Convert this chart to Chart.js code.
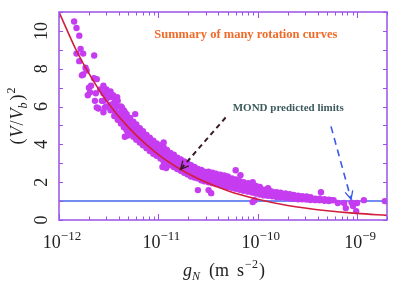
<!DOCTYPE html>
<html><head><meta charset="utf-8">
<script src="https://cdn.jsdelivr.net/npm/chart.js@4.4.1/dist/chart.umd.min.js"></script>
<style>html,body{margin:0;padding:0;background:#fff;}#wrap{width:415px;height:293px;}</style>
</head><body><div id="wrap"><canvas id="c" width="415" height="293"></canvas></div>
<script>
// ---- data ----
// dense band: each g value carries a column of (V/Vb)^2 values
const colG = [2.8e-12,3.0e-12,3.3e-12,3.6e-12,3.9e-12,4.2e-12,4.5e-12,4.8e-12,5.2e-12,5.6e-12,
  6.0e-12,6.5e-12,7.0e-12,7.6e-12,8.2e-12,8.9e-12,9.6e-12,
  1.05e-11,1.13e-11,1.22e-11,1.32e-11,1.43e-11,1.55e-11,1.68e-11,1.82e-11,1.97e-11,2.13e-11,2.31e-11,2.5e-11,2.7e-11,2.9e-11,
  3.2e-11,3.5e-11,3.8e-11,4.2e-11,4.6e-11,5.0e-11,5.5e-11,6.0e-11,6.6e-11,7.2e-11,8.0e-11,8.8e-11,9.6e-11,
  1.05e-10,1.15e-10,1.27e-10,1.4e-10,1.55e-10,1.7e-10,1.9e-10,2.1e-10,2.3e-10,2.55e-10,2.8e-10,3.1e-10,3.4e-10,3.8e-10,4.2e-10,4.7e-10,5.2e-10,5.8e-10];
const colV = [[6.3,6.7,7.1],[6.0,6.4,6.9],[5.8,6.1,6.5,6.8],[5.5,5.8,6.2,6.5],[5.3,5.6,6.0,6.3],[5.1,5.4,5.7,6.0],[4.9,5.2,5.5,5.8],[4.75,5.0,5.3,5.6],[4.55,4.85,5.1,5.4],[4.4,4.7,4.95,5.2],
  [4.25,4.5,4.8,5.05],[4.1,4.35,4.6,4.85],[3.95,4.2,4.45,4.7],[3.8,4.05,4.3,4.5],[3.65,3.9,4.1,4.35],[3.5,3.75,3.95,4.2],[3.4,3.6,3.85,4.05],
  [3.25,3.5,3.75,3.95],[3.1,3.35,3.6,3.85],[3.0,3.25,3.5,3.7],[2.9,3.1,3.35,3.55],[2.8,3.0,3.2,3.45],[2.7,2.9,3.1,3.3],[2.6,2.8,3.0,3.2],[2.5,2.7,2.9,3.1],[2.4,2.6,2.8,3.0],[2.3,2.5,2.7,2.9],[2.25,2.45,2.6,2.8],[2.2,2.35,2.55,2.7],[2.1,2.3,2.45,2.65],[2.05,2.25,2.4,2.55],
  [2.0,2.2,2.4,2.55],[1.95,2.15,2.35,2.5],[1.9,2.1,2.3,2.45],[1.85,2.05,2.25,2.4],[1.8,2.0,2.2,2.35],[1.75,1.95,2.1,2.3],[1.7,1.9,2.05,2.2],[1.65,1.8,2.0,2.15],[1.6,1.75,1.9,2.05],[1.55,1.7,1.85,2.0],[1.5,1.65,1.8,1.95],[1.45,1.6,1.75,1.85],[1.4,1.55,1.7,1.8],
  [1.35,1.5,1.65,1.75],[1.3,1.45,1.6],[1.28,1.42,1.55,1.68],[1.25,1.38,1.5],[1.22,1.35,1.47],[1.2,1.32,1.44],[1.18,1.3,1.4],[1.15,1.26,1.36],[1.12,1.22,1.32],[1.1,1.2,1.28],[1.1,1.18,1.26],[1.08,1.16,1.24],[1.06,1.14,1.2],[1.05,1.13],[1.04,1.12],[1.02,1.1],[1.0,1.08],[1.05]];
// sparse / outlying galaxies
const looseG = [1.42e-12,1.5e-12,1.6e-12,1.65e-12,1.5e-12,1.75e-12,2.26e-12,1.6e-12,1.85e-12,1.9e-12,
  1.75e-12,1.7e-12,2.25e-12,2.4e-12,2.1e-12,2.0e-12,2.6e-12,2.35e-12,1.95e-12,2.05e-12,
  3.0e-12,3.1e-12,2.3e-12,2.7e-12,2.5e-12,3.6e-12,2.8e-12,3.7e-12,4.1e-12,2.4e-12,
  3.5e-12,3.85e-12,4.3e-12,4.6e-12,5.85e-12,2.9e-12,4.6e-12,4.9e-12,1.13e-11,1.1e-11,1.2e-11,
  6.0e-11,6.7e-11,8.9e-11,3.2e-11,3.4e-11,8.9e-11,9.3e-11,1.3e-10,4.33e-10,2.5e-11,
  5.5e-10,6.4e-10,7.4e-10,7.7e-10,9.1e-10,8.8e-10,1.0e-9,9.8e-10,1.17e-9,1.9e-9];
const looseV = [10.5,10.15,9.75,9.05,8.8,8.8,8.7,8.4,8.05,7.9,
  7.7,7.65,7.5,7.45,7.1,7.0,6.9,6.7,6.6,6.75,
  6.6,6.5,6.3,6.3,5.9,5.9,5.7,5.7,5.6,5.95,
  6.6,6.5,5.95,5.7,5.6,5.95,4.4,4.47,4.1,2.8,2.75,
  2.63,2.37,2.0,1.58,1.42,0.95,1.05,1.58,1.47,1.58,
  1.05,0.9,0.9,0.63,0.74,0.92,0.9,0.47,1.05,1.0];
// red curve
const curveG = [1e-12,1.5e-12,2e-12,3e-12,5e-12,1e-11,2e-11,5e-11,1e-10,2e-10,5e-10,1e-9,2e-9];
const curveV = [11.0,8.95,7.75,6.3,4.9,3.46,2.45,1.55,1.1,0.77,0.49,0.35,0.245];
// blue limit line
const limitG = [1e-12,2e-9];
const limitV = [1,1];
// axes
const xTickExps = [-12,-11,-10,-9];
const yTickLabels = [0,2,4,6,8,10];
const yMinorStep = 1;
// annotations (data coords)
const titleText = 'Summary of many rotation curves';
const titleAt = {g:9.1e-12, v:9.63};
const noteText = 'MOND predicted limits';
const noteAt = {g:5.6e-11, v:5.79};
const arrow1 = {from:{g:4.75e-11,v:5.42}, to:{g:1.67e-11,v:2.68}};
const arrow2 = {from:{g:5.46e-10,v:4.95}, to:{g:8.7e-10,v:1.1}};

// ---- build ----
const pts = [];
colG.forEach((g,i)=>colV[i].forEach(v=>pts.push({x:g,y:v})));
looseG.forEach((g,i)=>pts.push({x:g,y:looseV[i]}));
const curvePts = curveG.map((g,i)=>({x:g,y:curveV[i]}));
const limitPts = limitG.map((g,i)=>({x:g,y:limitV[i]}));

const SERIF = '"Liberation Serif","Times New Roman",serif';
const FRAME = '#9a52e8';

function pieces(ctx, list, cx, cy){
  let w=0;
  list.forEach(p=>{ctx.font=p.f; w+=ctx.measureText(p.t).width+(p.g||0);});
  let xx=cx-w/2;
  list.forEach(p=>{ctx.font=p.f; ctx.fillText(p.t,xx,cy+(p.dy||0)); xx+=ctx.measureText(p.t).width+(p.g||0);});
}
function arrow(ctx, x0,y0,x1,y1,color,dash,lw){
  ctx.save();
  ctx.strokeStyle=color; ctx.lineWidth=lw; ctx.setLineDash(dash);
  ctx.beginPath(); ctx.moveTo(x0,y0); ctx.lineTo(x1,y1); ctx.stroke();
  ctx.setLineDash([]); ctx.lineWidth=1.3;
  const a=Math.atan2(y1-y0,x1-x0), L=9, s=0.45;
  ctx.beginPath();
  ctx.moveTo(x1-L*Math.cos(a-s), y1-L*Math.sin(a-s));
  ctx.lineTo(x1,y1);
  ctx.lineTo(x1-L*Math.cos(a+s), y1-L*Math.sin(a+s));
  ctx.stroke();
  ctx.restore();
}

const deco = {
  id:'deco',
  afterDraw(chart){
    const {ctx, chartArea:a, scales:{x,y}} = chart;
    ctx.save();
    ctx.strokeStyle=FRAME; ctx.lineWidth=1.5;
    ctx.strokeRect(a.left,a.top,a.right-a.left,a.bottom-a.top);
    ctx.lineWidth=1;
    ctx.beginPath();
    xTickExps.forEach(e=>{
      for(let k=1;k<=9;k++){
        const val=k*Math.pow(10,e);
        if(val>x.max) break;
        const px=Math.round(x.getPixelForValue(val))+0.5;
        const len=k===1?6:3.5;
        ctx.moveTo(px,a.bottom); ctx.lineTo(px,a.bottom-len);
        ctx.moveTo(px,a.top); ctx.lineTo(px,a.top+len);
      }
    });
    for(let v=y.min; v<=y.max; v+=yMinorStep){
      const py=Math.round(y.getPixelForValue(v))+0.5;
      ctx.moveTo(a.left,py); ctx.lineTo(a.left+4,py);
      ctx.moveTo(a.right,py); ctx.lineTo(a.right-4,py);
    }
    ctx.stroke();

    ctx.fillStyle='#222'; ctx.textAlign='left'; ctx.textBaseline='alphabetic';
    // x tick labels
    xTickExps.forEach(e=>{
      const px=x.getPixelForValue(Math.pow(10,e));
      pieces(ctx,[{t:'10',f:'18px '+SERIF},{t:'\u2212'+Math.abs(e),f:'13px '+SERIF,dy:-8}],px+3,248);
    });
    // y tick labels (rotated)
    yTickLabels.forEach(v=>{
      const py=y.getPixelForValue(v);
      ctx.save(); ctx.translate(47,py); ctx.rotate(-Math.PI/2);
      ctx.textAlign='center'; ctx.font='18px '+SERIF; ctx.fillText(String(v),0,0);
      ctx.restore();
    });
    ctx.textAlign='left';
    // x title
    pieces(ctx,[
      {t:'g',f:'italic 18px '+SERIF,g:0},
      {t:'N',f:'italic 12px '+SERIF,dy:4,g:9},
      {t:'(m',f:'18px '+SERIF,g:8},
      {t:'s',f:'18px '+SERIF,g:1},
      {t:'\u22122',f:'12px '+SERIF,dy:-8,g:1},
      {t:')',f:'18px '+SERIF}
    ],224,276);
    // y title
    ctx.save(); ctx.translate(23,116); ctx.rotate(-Math.PI/2);
    pieces(ctx,[
      {t:'(',f:'18px '+SERIF,g:1},
      {t:'V',f:'italic 18px '+SERIF,g:1},
      {t:'/',f:'18px '+SERIF,g:1},
      {t:'V',f:'italic 18px '+SERIF,g:0},
      {t:'b',f:'italic 12px '+SERIF,dy:4,g:2},
      {t:')',f:'18px '+SERIF,g:1},
      {t:'2',f:'12px '+SERIF,dy:-8}
    ],0,0);
    ctx.restore();

    // annotations
    ctx.fillStyle='#f06a28'; ctx.font='bold 12.5px '+SERIF;
    ctx.fillText(titleText, x.getPixelForValue(titleAt.g), y.getPixelForValue(titleAt.v));
    ctx.fillStyle='#3d5b5e'; ctx.font='bold 11px '+SERIF;
    ctx.fillText(noteText, x.getPixelForValue(noteAt.g), y.getPixelForValue(noteAt.v));
    arrow(ctx, x.getPixelForValue(arrow1.from.g), y.getPixelForValue(arrow1.from.v),
      x.getPixelForValue(arrow1.to.g), y.getPixelForValue(arrow1.to.v), '#3a1a24',[5,4],2);
    arrow(ctx, x.getPixelForValue(arrow2.from.g), y.getPixelForValue(arrow2.from.v),
      x.getPixelForValue(arrow2.to.g), y.getPixelForValue(arrow2.to.v), '#3a5ae8',[7,5],1.6);
    ctx.restore();
  }
};

new Chart(document.getElementById('c'),{
  type:'scatter',
  data:{datasets:[
    {label:'MOND curve',data:curvePts,showLine:true,borderColor:'#d01e3c',borderWidth:1.6,pointRadius:0,cubicInterpolationMode:'monotone',order:0},
    {label:'Rotation curves',data:pts,backgroundColor:'#c63cf0',borderWidth:0,pointRadius:3.2,order:1},
    {label:'Limit',data:limitPts,showLine:true,borderColor:'#4466ee',borderWidth:1.5,pointRadius:0,order:2}
  ]},
  options:{
    responsive:false, animation:false, events:[],
    layout:{padding:{left:59,top:12,right:28,bottom:73}},
    scales:{
      x:{type:'logarithmic',min:1e-12,max:2e-9,display:false},
      y:{type:'linear',min:0,max:11,display:false}
    },
    plugins:{legend:{display:false},tooltip:{enabled:false}}
  },
  plugins:[deco]
});
</script></body></html>
